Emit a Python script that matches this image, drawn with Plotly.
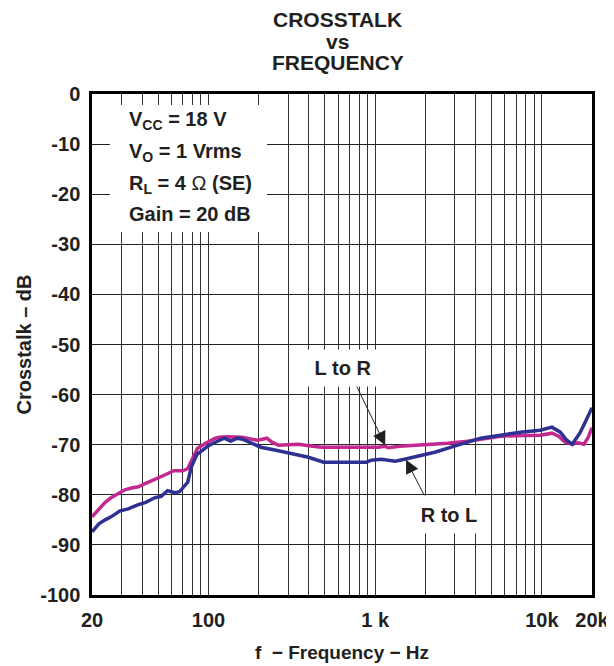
import plotly.graph_objects as go

# L to R (magenta)
f_lr = [20, 22, 24, 26, 29, 31.5, 35, 38, 42, 47.5, 55, 62, 70, 75, 80, 86, 95,
        110, 116, 130, 159, 180, 195, 210, 224, 240, 263, 300, 347, 400, 476, 600,
        800, 1043, 1150, 1197, 1400, 1807, 2200, 2730, 3590, 4500, 5650, 7000,
        9780, 11500, 12600, 13800, 15200, 16500, 17900, 19000, 20000]
db_lr = [-84.4, -83.0, -81.5, -80.6, -79.6, -79.0, -78.6, -78.4, -77.7, -77.0, -76.0,
         -75.2, -75.2, -74.8, -73.0, -70.7, -69.8, -68.7, -68.5, -68.4, -68.5, -68.9,
         -69.1, -68.9, -68.7, -69.5, -70.1, -70.0, -69.9, -70.2, -70.5, -70.5, -70.5,
         -70.5, -70.3, -70.6, -70.3, -70.1, -69.9, -69.7, -69.3, -68.8, -68.3, -68.2,
         -68.1, -67.7, -68.3, -69.5, -69.9, -69.6, -69.9, -68.5, -66.6]

# R to L (blue)
f_rl = [20, 22, 24, 26, 29.5, 33, 37.6, 42, 47.5, 52, 56.8, 60, 63, 67, 70, 75, 79,
        85, 89, 100, 110, 124, 136, 149, 160, 175, 206, 254, 303, 398, 490, 600,
        885, 948, 1086, 1200, 1320, 1500, 1807, 2280, 3130, 4300, 5650, 7430, 9780,
        11500, 12900, 14000, 15200, 16900, 18500, 20000]
db_rl = [-87.4, -85.8, -85.0, -84.4, -83.2, -82.8, -82.0, -81.5, -80.6, -80.3, -79.2,
         -79.4, -79.6, -79.4, -78.6, -77.5, -74.4, -72.0, -71.5, -70.2, -69.5, -68.7,
         -69.3, -68.7, -68.9, -69.5, -70.5, -71.1, -71.7, -72.5, -73.5, -73.5, -73.5,
         -73.1, -72.9, -73.1, -73.3, -72.9, -72.3, -71.5, -70.1, -68.7, -68.1, -67.5,
         -67.1, -66.5, -67.5, -69.0, -69.9, -67.7, -65.0, -62.6]

x_grid = [20, 30, 40, 50, 60, 70, 80, 90, 100, 200, 300, 400, 500, 600, 700, 800, 900,
          1000, 2000, 3000, 4000, 5000, 6000, 7000, 8000, 9000, 10000, 20000]
x_labels = {20: "20", 100: "100", 1000: "1 k", 10000: "10k", 20000: "20k"}
y_ticks = [0, -10, -20, -30, -40, -50, -60, -70, -80, -90, -100]

FONT = "Liberation Sans, Arial, Helvetica, sans-serif"
INK = "#231F20"

fig = go.Figure()
fig.add_trace(go.Scatter(x=f_lr, y=db_lr, mode="lines",
                         line=dict(color="#C2288F", width=3.5), name="L to R"))
fig.add_trace(go.Scatter(x=f_rl, y=db_rl, mode="lines",
                         line=dict(color="#2E3192", width=3.5), name="R to L"))

# page body has an 8px margin: compensate so the plot area lands at 92..595 x 94..595
fig.update_layout(
    width=614, height=666,
    margin=dict(l=84, r=27, t=86, b=79),
    paper_bgcolor="white", plot_bgcolor="white",
    showlegend=False,
    font=dict(family=FONT, color=INK),
)
fig.update_xaxes(
    type="log", range=[1.30103, 4.30103],
    tickvals=x_grid, ticktext=[x_labels.get(v, "") for v in x_grid],
    showgrid=True, gridcolor="#333333", gridwidth=1,
    showline=True, linecolor="black", linewidth=2.5, mirror=True,
    ticks="outside", ticklen=5, tickcolor="rgba(0,0,0,0)",
    tickfont=dict(size=20, weight="bold", family=FONT),
    title=dict(text="f  − Frequency − Hz", font=dict(size=19, weight="bold", family=FONT),
               standoff=16),
    zeroline=False,
)
fig.update_yaxes(
    range=[-100, 0],
    tickvals=y_ticks, ticktext=[str(v) for v in y_ticks],
    showgrid=True, gridcolor="#222222", gridwidth=1,
    showline=True, linecolor="black", linewidth=2.5, mirror=True,
    ticks="outside", ticklen=5, tickcolor="rgba(0,0,0,0)",
    tickfont=dict(size=20, weight="bold", family=FONT),
    title=dict(text="Crosstalk – dB", font=dict(size=20, weight="bold", family=FONT),
               standoff=4),
    zeroline=False,
)

# white box behind conditions text
fig.add_shape(type="rect", xref="paper", yref="paper", x0=0.0358, x1=0.350,
              y0=0.7246, y1=0.978, fillcolor="white", line=dict(width=0), layer="above")

cond = [
    ("<b>V<sub>CC</sub> = 18 V</b>", 0.947),
    ("<b>V<sub>O</sub> = 1 Vrms</b>", 0.884),
    ("<b>R<sub>L</sub> = 4 </b>Ω<b> (SE)</b>", 0.819),
    ("<b>Gain = 20 dB</b>", 0.760),
]
for txt, yy in cond:
    fig.add_annotation(text=txt, xref="paper", yref="paper", x=0.0696, y=yy,
                       xanchor="left", yanchor="middle", showarrow=False,
                       font=dict(size=20, family=FONT, color=INK))

# title lines
for txt, yy in [("CROSSTALK", 19), ("vs", 41), ("FREQUENCY", 62)]:
    fig.add_annotation(text="<b>%s</b>" % txt, xref="paper", yref="paper",
                       x=(339 - 92) / 503, y=(595 - yy) / 501, xanchor="center",
                       yanchor="middle", showarrow=False,
                       font=dict(size=21, family=FONT, color=INK))

# series labels
fig.add_annotation(text="<b>L to R</b>", xref="paper", yref="paper",
                   x=(345 - 92) / 503, y=(595 - 368) / 501, showarrow=False,
                   xanchor="center", yanchor="middle",
                   bgcolor="white", width=72, height=34,
                   font=dict(size=20, family=FONT, color=INK))
fig.add_annotation(text="<b>R to L</b>", xref="paper", yref="paper",
                   x=(451 - 92) / 503, y=(595 - 514) / 501, showarrow=False,
                   xanchor="center", yanchor="middle",
                   bgcolor="white", width=68, height=35,
                   font=dict(size=20, family=FONT, color=INK))

# arrows
fig.add_annotation(text="", x=3.06, y=-70.1, xref="x", yref="y",
                   ax=-29, ay=-60, showarrow=True, arrowhead=2, arrowsize=2.7,
                   arrowwidth=1, arrowcolor=INK, standoff=0)
fig.add_annotation(text="", x=3.185, y=-73.0, xref="x", yref="y",
                   ax=19, ay=37, showarrow=True, arrowhead=2, arrowsize=2.7,
                   arrowwidth=1, arrowcolor=INK, standoff=0)

fig.write_html("out.html")
